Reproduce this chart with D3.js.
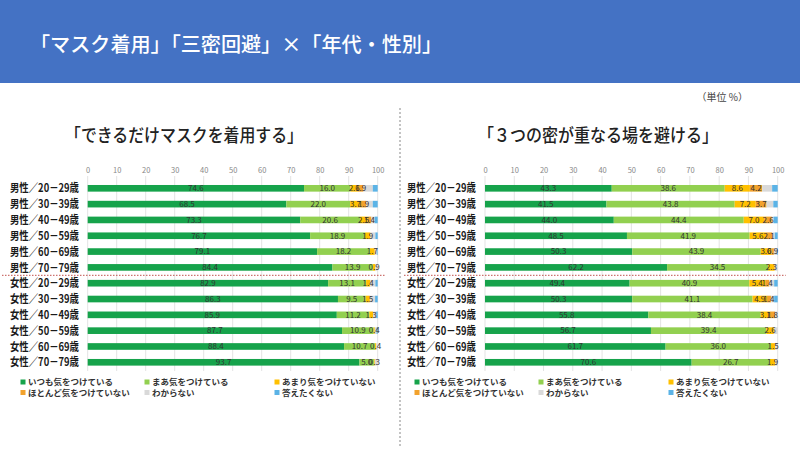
<!DOCTYPE html>
<html><head><meta charset="utf-8">
<script src="https://cdn.jsdelivr.net/npm/d3@7"></script>
<style>body{margin:0;background:#fff}svg{display:block}text{font-family:"Noto Sans CJK JP","Noto Sans",sans-serif}</style>
</head><body><svg id="c" width="800" height="450"></svg>
<script>
const categories = ["男性／20－29歳","男性／30－39歳","男性／40－49歳","男性／50－59歳","男性／60－69歳","男性／70－79歳",
  "女性／20－29歳","女性／30－39歳","女性／40－49歳","女性／50－59歳","女性／60－69歳","女性／70－79歳"];
const seriesNames = ["いつも気をつけている","まあ気をつけている","あまり気をつけていない","ほとんど気をつけていない","わからない","答えたくない"];
const seriesColors = ["#16a34b","#92d050","#ffc000","#f2a22c","#d9d9d9","#5bb3e6"];
const ticks = [0,10,20,30,40,50,60,70,80,90,100];

// 「できるだけマスクを着用する」
const maskAlways   = [74.6,68.5,73.3,76.7,79.1,84.4,82.9,86.3,85.9,87.7,88.4,93.7];
const maskSomewhat = [16.0,22.0,20.6,18.9,18.2,13.9,13.1,9.5,11.2,10.9,10.7,5.0];
const maskRarely   = [2.6,3.7,2.5,1.9,1.7,0.9,1.4,1.5,1.3,0.4,0.4,0.3];
const maskHardly   = [1.9,1.9,1.4,0,0,0,0,0,0,0,0,0];
const maskUnknown  = [3.2,2.2,1.2,1.7,0.8,0.8,1.8,1.8,1.1,0.6,0.5,1.0];
const maskNoAnswer = [1.7,1.7,1.0,0.8,0.2,0,0.8,0.9,0.5,0.4,0,0];

// 「３つの密が重なる場を避ける」
const avoidAlways   = [43.3,41.5,44.0,48.5,50.3,62.2,49.4,50.3,55.8,56.7,61.7,70.6];
const avoidSomewhat = [38.6,43.8,44.4,41.9,43.9,34.5,40.9,41.1,38.4,39.4,36.0,26.7];
const avoidRarely   = [8.6,7.2,7.0,5.6,3.6,2.3,5.4,4.9,3.1,2.6,1.5,1.9];
const avoidHardly   = [4.2,3.7,2.6,2.1,0.9,0,1.4,1.4,1.8,0,0,0];
const avoidUnknown  = [3.4,2.3,0.6,0.9,1.0,1.0,1.7,1.1,0.9,1.3,0.8,0.8];
const avoidNoAnswer = [1.9,1.5,1.4,1.0,0.3,0,1.2,1.2,0,0,0,0];

const svg = d3.select("#c");

// header band
svg.append("rect").attr("x",0).attr("y",0).attr("width",800).attr("height",83).attr("fill","#4472c4");
svg.append("text").attr("x",30).attr("y",52).attr("fill","#fff").attr("font-size",20).attr("font-weight",500)
  .attr("textLength",412).attr("lengthAdjust","spacingAndGlyphs")
  .text("「マスク着用」「三密回避」×「年代・性別」");
svg.append("text").attr("x",748).attr("y",101).attr("text-anchor","end").attr("fill","#444").attr("font-size",10)
  .text("（単位 %）");

// vertical divider
svg.append("line").attr("x1",400).attr("x2",400).attr("y1",108).attr("y2",446)
  .attr("stroke","#888").attr("stroke-width",1).attr("stroke-dasharray","2,2");

function panel(opts){
  const {x0,x1,labelX,title,titleX,titleW,series,legendX} = opts;
  const g = svg.append("g");
  const x = d3.scaleLinear().domain([0,100]).range([x0,x1]);
  const y = d3.scaleBand().domain(categories).range([180.4,370.2]).paddingInner(0.58).paddingOuter(0.29);

  g.append("text").attr("x",titleX).attr("y",142).attr("font-size",18).attr("font-weight",500).attr("fill","#222")
    .attr("textLength",titleW).attr("lengthAdjust","spacingAndGlyphs").text(title);

  // gridlines
  g.append("g").selectAll("line").data(ticks).join("line")
    .attr("x1",d=>x(d)).attr("x2",d=>x(d)).attr("y1",176).attr("y2",371)
    .attr("stroke","#e3e3e3").attr("stroke-width",1);

  const ax = g.append("g").attr("transform","translate(0,176)")
    .call(d3.axisTop(x).tickValues(ticks).tickSize(0).tickPadding(3));
  ax.select(".domain").remove();
  ax.selectAll("text").attr("font-size",7.5).attr("fill","#888").attr("font-family","Calibri,'Liberation Sans',sans-serif");

  // stacked data
  const rows = categories.map((c,i)=>{
    let acc = 0;
    return series.map((s,k)=>{ const v=s[i]; const r={cat:c,k,v,a:acc,b:acc+v}; acc+=v; return r; });
  });
  const segs = rows.flat();
  g.append("g").selectAll("rect").data(segs.filter(d=>d.v>0)).join("rect")
    .attr("x",d=>x(d.a)).attr("width",d=>x(d.b)-x(d.a))
    .attr("y",d=>y(d.cat)).attr("height",y.bandwidth())
    .attr("fill",d=>seriesColors[d.k]);

  g.append("g").selectAll("text").data(segs.filter(d=>d.v>0 && d.k<4)).join("text")
    .attr("x",d=>x((d.a+d.b)/2)).attr("y",d=>y(d.cat)+y.bandwidth()/2)
    .attr("dy","0.35em").attr("text-anchor","middle").attr("font-size",8).attr("fill","#333")
    .attr("font-family","Calibri,'Liberation Sans',sans-serif")
    .text(d=>d.v.toFixed(1));

  // category labels
  g.append("g").selectAll("text").data(categories).join("text")
    .attr("x",labelX).attr("y",d=>y(d)+y.bandwidth()/2).attr("dy","0.36em").attr("text-anchor","end")
    .attr("font-size",11.5).attr("font-weight",700).attr("fill","#1a1a1a")
    .attr("textLength",69).attr("lengthAdjust","spacingAndGlyphs").text(d=>d);

  // separator men/women
  const sepY = (y(categories[5])+y(categories[6])+y.bandwidth())/2;
  g.append("line").attr("x1",opts.sepX0).attr("x2",x1+8).attr("y1",sepY).attr("y2",sepY)
    .attr("stroke","#c0504d").attr("stroke-width",1).attr("stroke-dasharray","1.5,1.5");

  // legend
  const cols=[legendX,legendX+124,legendX+254];
  const lg = g.append("g").selectAll("g").data(seriesNames).join("g")
    .attr("transform",(d,i)=>`translate(${cols[i%3]},${i<3?382:392.5})`);
  lg.append("rect").attr("x",-2.5).attr("y",-2.5).attr("width",5).attr("height",5).attr("fill",(d,i)=>seriesColors[i]);
  lg.append("text").attr("x",5).attr("dy","0.36em").attr("font-size",8.5).attr("font-weight",700).attr("fill","#333").text(d=>d);
}

panel({x0:87.7,x1:377.7,labelX:79,title:"「できるだけマスクを着用する」",titleX:65,titleW:238,legendX:23,sepX0:2,
  series:[maskAlways,maskSomewhat,maskRarely,maskHardly,maskUnknown,maskNoAnswer]});
panel({x0:485,x1:777.7,labelX:476,title:"「３つの密が重なる場を避ける」",titleX:478,titleW:240,legendX:417,sepX0:404,
  series:[avoidAlways,avoidSomewhat,avoidRarely,avoidHardly,avoidUnknown,avoidNoAnswer]});
</script></body></html>
